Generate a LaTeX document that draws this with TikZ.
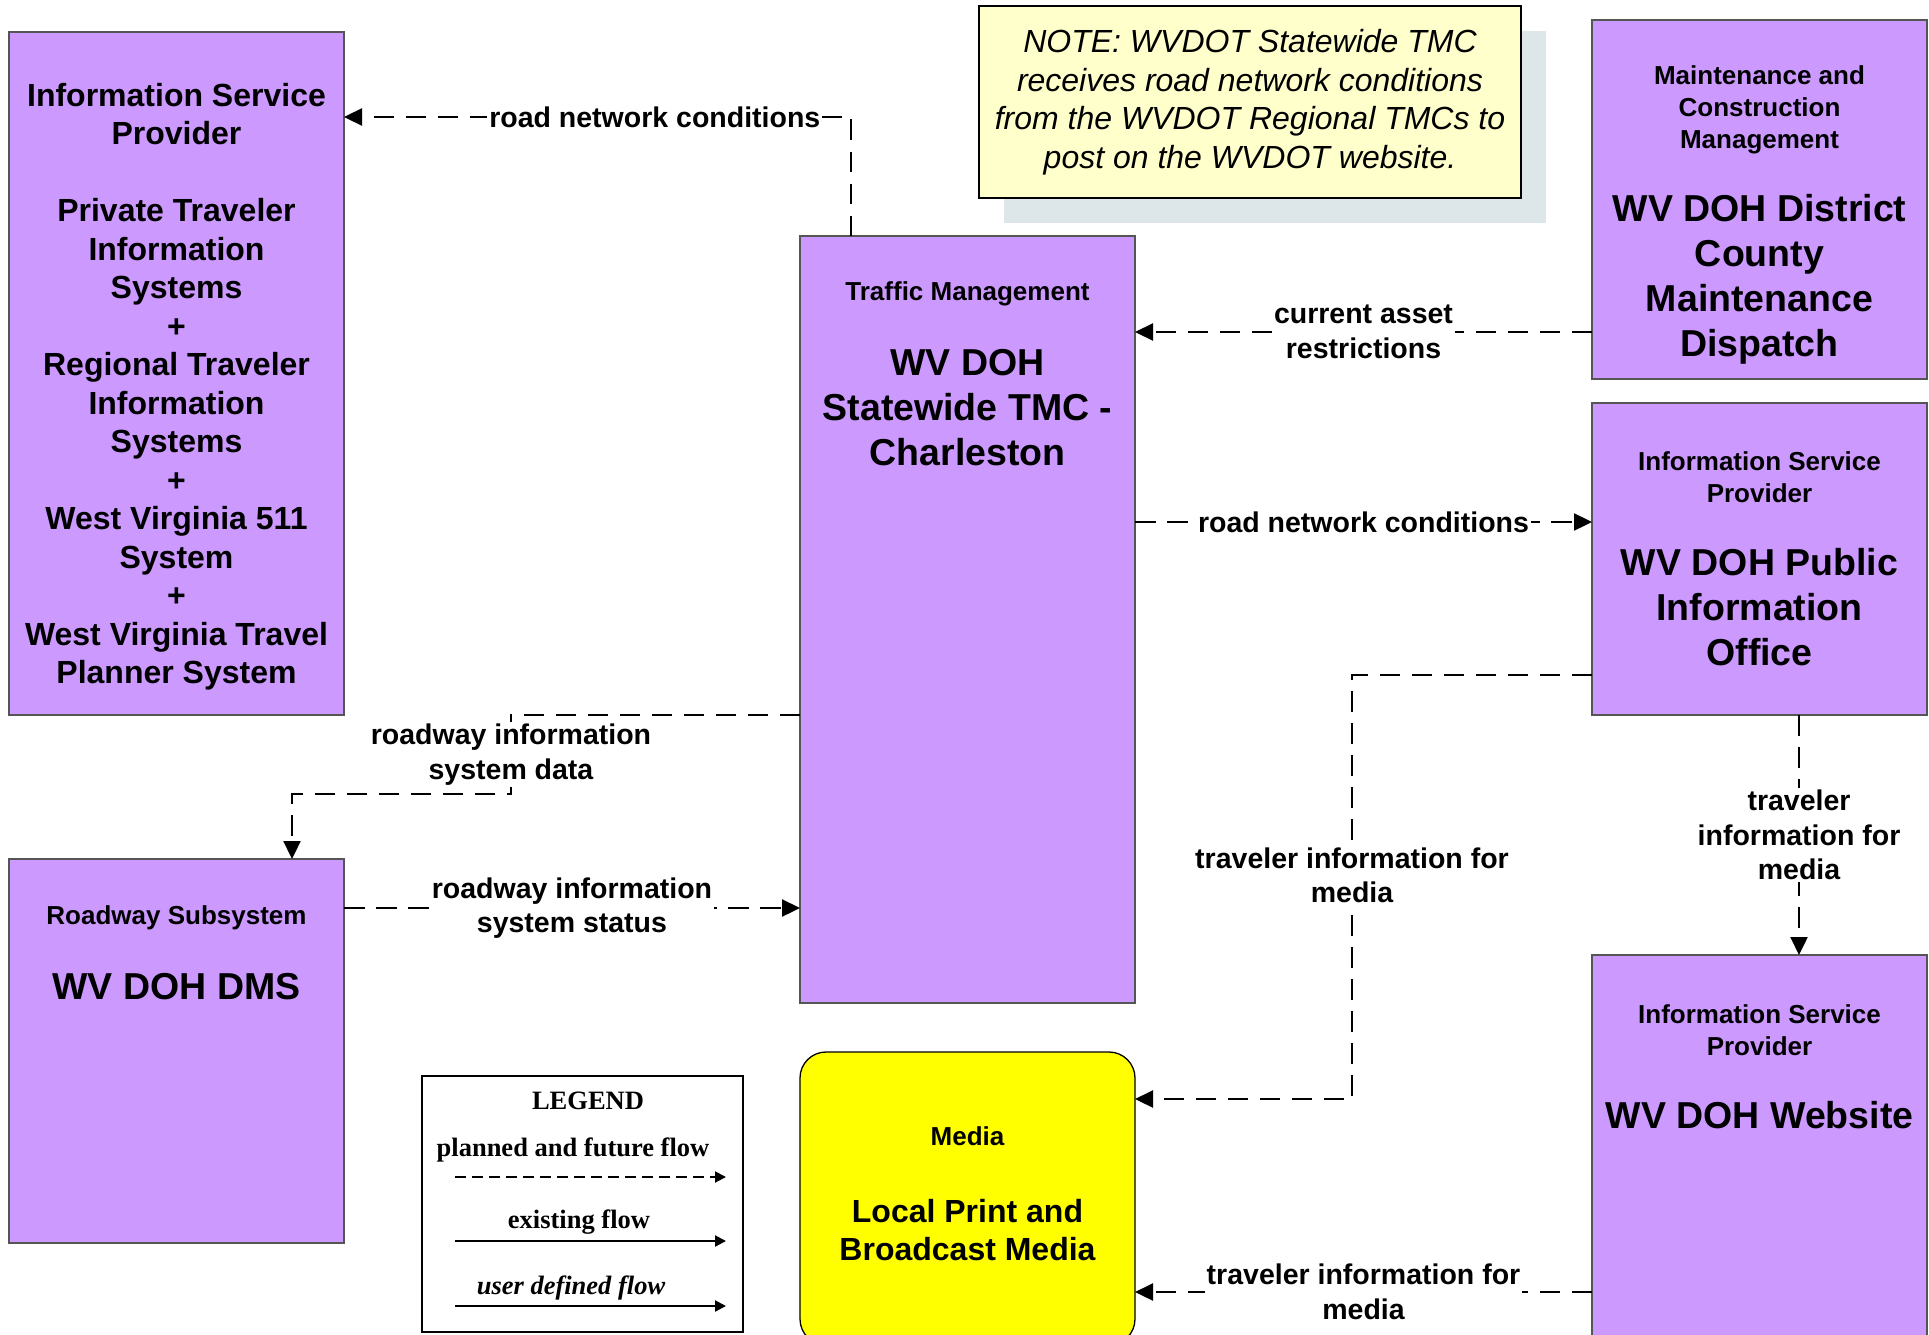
\documentclass[tikz,border=0pt]{standalone}
\usepackage{fontspec}
\setmainfont{Liberation Sans}
\newfontfamily\timesf{Liberation Serif}
\usetikzlibrary{arrows.meta}
\definecolor{boxpurple}{RGB}{204,153,255}
\definecolor{notefill}{RGB}{255,255,204}
\definecolor{noteshadow}{RGB}{221,230,232}
\definecolor{boxedge}{RGB}{85,85,85}
\definecolor{mediayellow}{RGB}{255,255,0}
\begin{document}
\begin{tikzpicture}[x=1pt,y=-1pt,
  ent/.style={draw=boxedge, line width=1.3pt, fill=boxpurple, inner sep=0pt, outer sep=0pt, minimum width=335pt},
  small/.style={font=\bfseries\fontsize{26}{32}\selectfont, align=center, inner sep=0pt},
  big/.style={font=\bfseries\fontsize{37.5}{45}\selectfont, align=center, inner sep=0pt},
  mid/.style={font=\bfseries\fontsize{32}{38.5}\selectfont, align=center, inner sep=0pt},
  lbl/.style={font=\bfseries\fontsize{28.5}{34.5}\selectfont, align=center, fill=white, inner sep=2pt},
  flow/.style={draw, line width=2.3pt, dash pattern=on 20.5pt off 11.5pt, -{Triangle[length=18pt,width=17pt]}},
  legtext/.style={font=\timesf\bfseries\fontsize{26.5}{30}\selectfont, inner sep=0pt},
  legarrow/.style={draw, line width=2.2pt, -{Triangle[length=11pt,width=11pt]}}
]
\useasboundingbox (0,0) rectangle (1929,1335);

% note with shadow
\fill[noteshadow] (1004,31) rectangle (1546,223);
\node[draw=black, line width=1.2pt, fill=notefill, minimum width=542pt, minimum height=192pt, inner sep=0pt,
  font=\itshape\fontsize{32}{38.5}\selectfont, align=center] (note) at (1250,102)
  {NOTE: WVDOT Statewide TMC\\receives road network conditions\\from the WVDOT Regional TMCs to\\post on the WVDOT website.};

% boxes
\node[ent, minimum height=683pt] (isp) at (176.5,373.5) {};
\node[ent, minimum height=767pt] (tmc) at (967.5,619.5) {};
\node[ent, minimum height=359pt] (mcm) at (1759.5,199.5) {};
\node[ent, minimum height=312pt] (pio) at (1759.5,559) {};
\node[ent, minimum height=390pt] (web) at (1759.5,1150) {};
\node[ent, minimum height=384pt] (dms) at (176.5,1051) {};
\node[ent, fill=mediayellow, draw=black, rounded corners=26pt, minimum height=293pt] (media) at (967.5,1198.5) {};

% box texts
\node[mid] (ispt) at (176.5,386.5) {Information Service\\Provider\\[38.5pt]Private Traveler\\Information\\Systems\\+\\Regional Traveler\\Information\\Systems\\+\\West Virginia 511\\System\\+\\West Virginia Travel\\Planner System};
\node[small] (tmch) at (967.5,294) {Traffic Management};
\node[big] (tmct) at (967.5,408) {WV DOH\\Statewide TMC -\\Charleston};
\node[small] (mcmh) at (1759.5,109.5) {Maintenance and\\Construction\\Management};
\node[big] (mcmt) at (1759.5,279) {WV DOH District\\County\\Maintenance\\Dispatch};
\node[small] (pioh) at (1759.5,477) {Information Service\\Provider};
\node[big] (piot) at (1759.5,607) {WV DOH Public\\Information\\Office};
\node[small] (webh) at (1759.5,1030) {Information Service\\Provider};
\node[big] (webt) at (1759.5,1115) {WV DOH Website};
\node[small] (dmsh) at (176.5,918) {Roadway Subsystem};
\node[big] (dmst) at (176.5,987) {WV DOH DMS};
\node[small] (mediah) at (967.5,1136) {Media};
\node[mid] (mediat) at (967.5,1230) {Local Print and\\Broadcast Media};

% connector helper coordinates
\coordinate (r1) at (851,117);
\coordinate (y2) at (0,332);
\coordinate (y3) at (0,522);
\coordinate (c4a) at (511,715);
\coordinate (c4b) at (292,794);
\coordinate (y5) at (0,908);
\coordinate (c6a) at (1352,675);
\coordinate (c6b) at (1352,1099);
\coordinate (x7) at (1799,0);
\coordinate (y8) at (0,1292);

% connectors
\draw[flow] (tmc.north -| r1) -- (r1) -- node[lbl, pos=0.387] {road network conditions} (isp.east |- r1);
\draw[flow] (mcm.west |- y2) -- node[lbl] {current asset\\restrictions} (tmc.east |- y2);
\draw[flow] (tmc.east |- y3) -- node[lbl] {road network conditions} (pio.west |- y3);
\draw[flow] (tmc.west |- c4a) -- (c4a) -- node[lbl] {roadway information\\system data} (c4a |- c4b) -- (c4b) -- (c4b |- dms.north);
\draw[flow] (dms.east |- y5) -- node[lbl] {roadway information\\system status} (tmc.west |- y5);
\draw[flow] (pio.west |- c6a) -- (c6a) -- node[lbl, pos=0.472] {traveler information for\\media} (c6b) -- (media.east |- c6b);
\draw[flow] (pio.south -| x7) -- node[lbl] {traveler\\information for\\media} (web.north -| x7);
\draw[flow] (web.west |- y8) -- node[lbl] {traveler information for\\media} (media.east |- y8);

% legend
\node[draw=black, line width=2.5pt, minimum width=321pt, minimum height=256pt, inner sep=0pt] (legend) at (582.5,1204) {};
\node[legtext] (legh) at (588,1101) {LEGEND};
\node[legtext] (leg1) at (573,1150) {planned and future flow};
\coordinate (l1a) at (455,1177);
\coordinate (l1b) at (726,1177);
\draw[legarrow, line width=2pt, dash pattern=on 11pt off 6pt] (l1a) -- (l1b);
\node[legtext] (leg2) at (579,1222) {existing flow};
\coordinate (l2a) at (455,1241);
\coordinate (l2b) at (726,1241);
\draw[legarrow] (l2a) -- (l2b);
\node[legtext, font=\timesf\bfseries\itshape\fontsize{26.5}{30}\selectfont] (leg3) at (571,1288) {user defined flow};
\coordinate (l3a) at (455,1306);
\coordinate (l3b) at (726,1306);
\draw[legarrow] (l3a) -- (l3b);
\end{tikzpicture}
\end{document}
